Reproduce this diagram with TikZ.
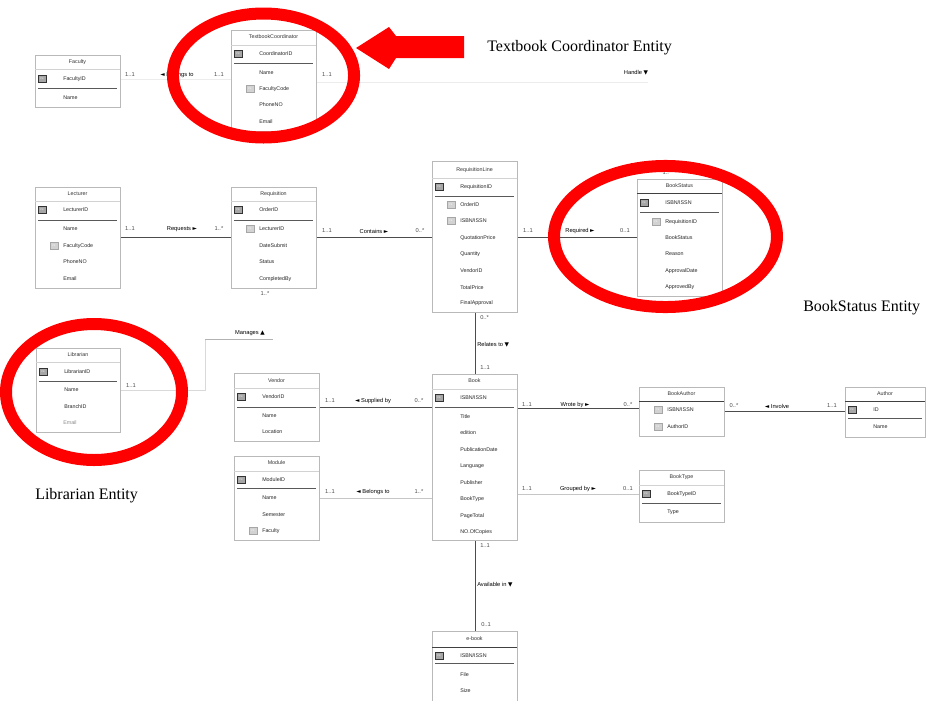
\documentclass[tikz,border=0pt]{standalone}
\usepackage{fontspec}
\setmainfont{Liberation Serif}
\newfontfamily\ersans{Liberation Sans}
\newfontfamily\symf{DejaVu Sans}
\usetikzlibrary{calc}
\newcommand{\symR}{{\symf ►}}
\newcommand{\symL}{{\symf ◄}}
\newcommand{\symD}{{\symf ▼}}
\newcommand{\symU}{{\symf ▲}}
\newcommand{\ent}[5]{\def\myEX{#2}\def\myEW{#5}%
  \node[ebox,minimum width={#5*0.75pt},minimum height={(#4-#3)*0.75pt},anchor=north west] (#1) at (#2,#3) {};}
\newcommand{\ettl}[3]{\node[ttl] (#1) at ({\myEX+\myEW/2},#2) {#3};}
\newcommand{\ehl}[2]{\draw[#2] (\myEX,#1) -- ({\myEX+\myEW},#1);}
\newcommand{\esep}[1]{\draw[sepl] ({\myEX+3},#1) -- ({\myEX+\myEW-3},#1);}
\newcommand{\epk}[3]{\node[pkic] (#1i) at ({\myEX+7},#2) {PK};\node[rtx] (#1) at ({\myEX+28},#2) {#3};}
\newcommand{\efk}[3]{\node[fkic] (#1i) at ({\myEX+19},#2) {FK};\node[rtx] (#1) at ({\myEX+28},#2) {#3};}
\newcommand{\eat}[3]{\node[rtx] (#1) at ({\myEX+28},#2) {#3};}
\begin{document}
\begin{tikzpicture}[x=0.75pt,y=-0.75pt,
  ebox/.style={draw=gray!55,line width=0.7pt,fill=white,inner sep=0},
  ttl/.style={font=\ersans\fontsize{4}{5}\selectfont,text=black!80,inner sep=0},
  rtx/.style={anchor=west,font=\ersans\fontsize{4}{5}\selectfont,text=black!85,inner sep=0},
  pkic/.style={draw=gray!40!black,fill=gray!70,minimum width=6pt,minimum height=5.2pt,inner sep=0,text=white,font=\ersans\fontsize{1.8}{2}\selectfont},
  fkic/.style={pkic,draw=gray!70,fill=gray!35},
  hl/.style={draw=gray!35,line width=0.6pt},
  hld/.style={draw=black!75,line width=0.7pt},
  sepl/.style={draw=black!65,line width=0.7pt},
  conn/.style={draw=gray!60!black,line width=0.7pt},
  connl/.style={draw=gray!30,line width=0.7pt},
  lbl/.style={font=\ersans\fontsize{4.3}{5}\selectfont,text=black,inner sep=0},
  card/.style={lbl,text=black!70},
  note/.style={font=\fontsize{12}{14}\selectfont,anchor=west,inner sep=0},
  redring/.style={draw=red,line width=9pt}]
\useasboundingbox (0,0) rectangle (930,700);
\fill[white] (0,0) rectangle (930,700);

% ---------- entities ----------
\ent{fac}{35}{55}{107}{85}
\ettl{fac-t}{62}{Faculty}\ehl{69}{hl}
\epk{fac-1}{79}{FacultyID}\esep{88}
\eat{fac-2}{98}{Name}

\ent{tc}{231}{30}{131}{85}
\ettl{tc-t}{37}{TextbookCoordinator}\ehl{45}{hl}
\epk{tc-1}{54}{CoordinatorID}\esep{63}
\eat{tc-2}{73}{Name}
\efk{tc-3}{89}{FacultyCode}
\eat{tc-4}{105}{PhoneNO}
\eat{tc-5}{122}{Email}

\ent{lec}{35}{187}{288}{85}
\ettl{lec-t}{194}{Lecturer}\ehl{201}{hl}
\epk{lec-1}{210}{LecturerID}\esep{220}
\eat{lec-2}{229}{Name}
\efk{lec-3}{246}{FacultyCode}
\eat{lec-4}{262}{PhoneNO}
\eat{lec-5}{279}{Email}

\ent{req}{231}{187}{288}{85}
\ettl{req-t}{194}{Requisition}\ehl{201}{hl}
\epk{req-1}{210}{OrderID}\esep{220}
\efk{req-2}{229}{LecturerID}
\eat{req-3}{246}{DateSubmit}
\eat{req-4}{262}{Status}
\eat{req-5}{279}{CompletedBy}
\node[card] (req-c) at (265,294) {1..*};

\ent{rl}{432}{161}{312}{85}
\ettl{rl-t}{170}{RequisitionLine}\ehl{178}{hl}
\epk{rl-1}{187}{RequisitionID}\esep{196}
\efk{rl-2}{205}{OrderID}
\efk{rl-3}{221}{ISBN/ISSN}
\eat{rl-4}{238}{QuotationPrice}
\eat{rl-5}{254}{Quantity}
\eat{rl-6}{271}{VendorID}
\eat{rl-7}{288}{TotalPrice}
\eat{rl-8}{303}{FinalApproval}

\ent{bs}{637}{179}{296}{85}
\ettl{bs-t}{186}{BookStatus}\ehl{193}{hld}
\epk{bs-1}{203}{ISBN/ISSN}\esep{212}
\efk{bs-2}{222}{RequisitionID}
\eat{bs-3}{238}{BookStatus}
\eat{bs-4}{254}{Reason}
\eat{bs-5}{271}{ApprovalDate}
\eat{bs-6}{287}{ApprovedBy}
\node[card] (bs-c) at (667,173) {1..*};

\ent{lib}{36}{348}{432}{84}
\ettl{lib-t}{355}{Librarian}\ehl{362}{hl}
\epk{lib-1}{372}{LibrarianID}\esep{381}
\eat{lib-2}{390}{Name}
\eat{lib-3}{407}{BranchID}
\node[rtx,text=black!45] (lib-4) at (63,423) {Email};

\ent{ven}{234}{373}{441}{85}
\ettl{ven-t}{381}{Vendor}\ehl{388}{hl}
\epk{ven-1}{397}{VendorID}\esep{407}
\eat{ven-2}{416}{Name}
\eat{ven-3}{432}{Location}

\ent{mod}{234}{456}{540}{85}
\ettl{mod-t}{463}{Module}\ehl{471}{hl}
\epk{mod-1}{480}{ModuleID}\esep{488}
\eat{mod-2}{498}{Name}
\eat{mod-3}{515}{Semester}
\efk{mod-4}{531}{Faculty}

\ent{book}{432}{374}{540}{85}
\ettl{book-t}{381}{Book}\ehl{389}{hl}
\epk{book-1}{398}{ISBN/ISSN}\esep{407}
\eat{book-2}{417}{Title}
\eat{book-3}{433}{edition}
\eat{book-4}{450}{PublicationDate}
\eat{book-5}{466}{Language}
\eat{book-6}{483}{Publisher}
\eat{book-7}{499}{BookType}
\eat{book-8}{516}{PageTotal}
\eat{book-9}{532}{NO.OfCopies}

\ent{ba}{639}{387}{436}{85}
\ettl{ba-t}{394}{BookAuthor}\ehl{401}{hld}
\efk{ba-1}{410}{ISBN/ISSN}
\efk{ba-2}{427}{AuthorID}

\ent{au}{845}{387}{437}{80}
\ettl{au-t}{394}{Author}\ehl{401}{hld}
\epk{au-1}{410}{ID}\esep{418}
\eat{au-2}{427}{Name}

\ent{bt}{639}{470}{522}{85}
\ettl{bt-t}{477}{BookType}\ehl{485}{hl}
\epk{bt-1}{494}{BookTypeID}\esep{503}
\eat{bt-2}{512}{Type}

\ent{eb}{432}{631}{708}{85}
\ettl{eb-t}{639}{e-book}\ehl{647}{hld}
\epk{eb-1}{656}{ISBN/ISSN}\esep{663}
\eat{eb-2}{675}{File}
\eat{eb-3}{691}{Size}

% ---------- connectors ----------
\coordinate (yFT) at (0,79);
\draw[connl,draw=gray!15] (fac.east |- yFT) -- (tc.west |- yFT);
\node[card] (l1a) at (130,75) {1..1};
\node[lbl] (l1b) at (177,75) {\symL\ Belongs to};
\node[card] (l1c) at (219,75) {1..1};

\coordinate (hE) at (648,82);
\draw[connl,draw=gray!15] (tc.east |- hE) -- (hE);
\node[card] (l2a) at (327,75) {1..1};
\node[lbl] (l2b) at (636,73) {Handle \symD};

\coordinate (yR) at (0,237);
\draw[conn] (lec.east |- yR) -- (req.west |- yR);
\node[card] (l3a) at (130,229) {1..1};
\node[lbl] (l3b) at (182,229) {Requests \symR};
\node[card] (l3c) at (219,229) {1..*};

\draw[conn] (req.east |- yR) -- (rl.west |- yR);
\node[card] (l4a) at (327,231) {1..1};
\node[lbl] (l4b) at (374,231) {Contains \symR};
\node[card] (l4c) at (420,231) {0..*};

\draw[conn] (rl.east |- yR) -- (bs.west |- yR);
\node[card] (l5a) at (528,231) {1..1};
\node[lbl] (l5b) at (580,231) {Required \symR};
\node[card] (l5c) at (625,231) {0..1};

\draw[conn] (rl.south) -- (book.north);
\node[card,anchor=west] (l6a) at (480,318) {0..*};
\node[lbl,anchor=west] (l6b) at (477,345) {Relates to \symD};
\node[card,anchor=west] (l6c) at (480,368) {1..1};

\coordinate (mA) at (205,339);
\coordinate (mB) at (273,339);
\draw[connl] (lib.east |- lib-2) -| (mA);
\draw[conn,draw=gray!60] (mA) -- (mB);
\node[card] (l7a) at (131,386) {1..1};
\node[lbl] (l7b) at (250,333) {Manages \symU};

\coordinate (yV) at (0,407);
\draw[conn] (ven.east |- yV) -- (book.west |- yV);
\node[card] (l8a) at (330,401) {1..1};
\node[lbl] (l8b) at (373,401) {\symL\ Supplied by};
\node[card] (l8c) at (419,401) {0..*};

\coordinate (yM) at (0,498);
\draw[conn,draw=gray!45] (mod.east |- yM) -- (book.west |- yM);
\node[card] (l9a) at (330,492) {1..1};
\node[lbl] (l9b) at (373,492) {\symL\ Belongs to};
\node[card] (l9c) at (419,492) {1..*};

\coordinate (yW) at (0,408);
\draw[conn] (book.east |- yW) -- (ba.west |- yW);
\node[card] (l10a) at (527,405) {1..1};
\node[lbl] (l10b) at (575,405) {Wrote by \symR};
\node[card] (l10c) at (628,405) {0..*};

\coordinate (yG) at (0,494);
\draw[conn,draw=gray!45] (book.east |- yG) -- (bt.west |- yG);
\node[card] (l11a) at (527,489) {1..1};
\node[lbl] (l11b) at (578,489) {Grouped by \symR};
\node[card] (l11c) at (628,489) {0..1};

\coordinate (yI) at (0,411);
\draw[conn] (ba.east |- yI) -- (au.west |- yI);
\node[card] (l12a) at (734,406) {0..*};
\node[lbl] (l12b) at (777,406) {\symL\ Involve};
\node[card] (l12c) at (832,406) {1..1};

\draw[conn] (book.south) -- (eb.north);
\node[card,anchor=west] (l13a) at (480,546) {1..1};
\node[lbl,anchor=west] (l13b) at (477,585) {Available in \symD};
\node[card,anchor=west] (l13c) at (481,625) {0..1};

% ---------- annotations ----------
\draw[redring] (263.5,75.5) ellipse [x radius=67.9pt, y radius=46.5pt];
\draw[redring] (665.5,236.5) ellipse [x radius=83.6pt, y radius=52.9pt];
\draw[redring] (94,392) ellipse [x radius=66pt, y radius=51pt];
\fill[red] (464,36) -- (396,36) -- (389,27) -- (356,48) -- (389,69) -- (396,58) -- (464,58) -- cycle;
\node[note] (n1) at (487,48) {Textbook Coordinator Entity};
\node[note] (n2) at (803,308) {BookStatus Entity};
\node[note] (n3) at (35,496) {Librarian Entity};
\end{tikzpicture}
\end{document}
